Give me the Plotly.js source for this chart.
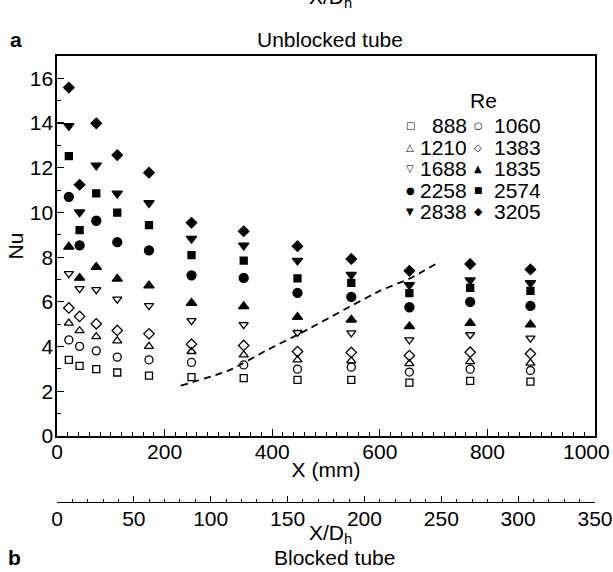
<!DOCTYPE html>
<html>
<head>
<meta charset="utf-8">
<script src="https://cdn.plot.ly/plotly-3.0.1.min.js"></script>
<style>
html,body{margin:0;padding:0;background:#fff;}
#chart{width:613px;height:572px;}
</style>
</head>
<body>
<div id="chart"></div>
<script>
// Axial positions of the measuring stations (mm)
const X_MM = [22, 42, 73, 112, 171, 250, 347, 447, 547, 655, 768, 880];

// Reynolds numbers (legend labels)
const RE = [888, 1060, 1210, 1383, 1688, 1835, 2258, 2574, 2838, 3205];

// Nusselt numbers per Reynolds number
const NU_888  = [3.41, 3.14, 2.99, 2.84, 2.70, 2.63, 2.59, 2.51, 2.51, 2.39, 2.47, 2.43];
const NU_1060 = [4.30, 4.01, 3.81, 3.53, 3.41, 3.29, 3.18, 2.99, 3.08, 2.86, 2.99, 2.93];
const NU_1210 = [5.05, 4.71, 4.45, 4.26, 4.01, 3.78, 3.63, 3.41, 3.36, 3.24, 3.33, 3.26];
const NU_1383 = [5.73, 5.35, 5.02, 4.72, 4.57, 4.11, 4.05, 3.78, 3.74, 3.60, 3.75, 3.68];
const NU_1688 = [7.26, 6.59, 6.55, 6.12, 5.83, 5.16, 4.98, 4.63, 4.61, 4.30, 4.53, 4.38];
const NU_1835 = [8.46, 7.07, 7.56, 7.03, 6.73, 5.95, 5.80, 5.32, 5.20, 4.90, 5.05, 4.98];
const NU_2258 = [10.70, 8.53, 9.63, 8.67, 8.30, 7.19, 7.07, 6.40, 6.22, 5.76, 6.00, 5.82];
const NU_2574 = [12.52, 9.21, 10.85, 9.99, 9.43, 8.09, 7.85, 7.05, 6.85, 6.39, 6.63, 6.49];
const NU_2838 = [13.87, 10.01, 12.11, 10.85, 10.43, 8.83, 8.53, 7.85, 7.22, 6.76, 6.97, 6.85];
const NU_3205 = [15.59, 11.24, 13.99, 12.57, 11.78, 9.54, 9.16, 8.49, 7.92, 7.39, 7.69, 7.45];

// Dashed reference curve
const CURVE_X  = [230, 321, 390, 452, 600, 656, 707];
const CURVE_NU = [2.25, 2.95, 3.84, 4.59, 6.49, 7.05, 7.74];

// Tick labels
const X_TICKS  = [0, 200, 400, 600, 800, 1000];
const XD_TICKS = [0, 50, 100, 150, 200, 250, 300, 350];
const Y_TICKS  = [0, 2, 4, 6, 8, 10, 12, 14, 16];

const SERIES = [NU_888, NU_1060, NU_1210, NU_1383, NU_1688, NU_1835, NU_2258, NU_2574, NU_2838, NU_3205];
const SYMBOLS = ['square-open', 'circle-open', 'triangle-up-open', 'diamond-open', 'triangle-down-open',
                 'triangle-up', 'circle', 'square', 'triangle-down', 'diamond'];
const SIZES = [7, 8, 8, 8, 8, 9, 9, 7, 9, 8];
const GLYPHS = ['\u25A1', '\u25CB', '\u25B3', '\u25C7', '\u25BD', '\u25B2', '\u25CF', '\u25A0', '\u25BC', '\u25C6'];
const GLYPH_SIZE = [10, 10, 10, 10, 10, 10, 10, 9, 10, 11];

const FONT = 'Liberation Sans, Arial, Helvetica, sans-serif';
const FS = 21;
const LFS = 21;

const traces = SERIES.map((nu, i) => ({
  type: 'scatter', mode: 'markers', x: X_MM, y: nu, name: String(RE[i]),
  xaxis: 'x', yaxis: 'y', showlegend: false,
  marker: {symbol: SYMBOLS[i], size: SIZES[i], color: '#000', line: {color: '#000', width: 1.3}}
}));
traces.push({
  type: 'scatter', mode: 'lines', x: CURVE_X, y: CURVE_NU, showlegend: false,
  line: {color: '#000', width: 1.8, dash: '7px,5px', shape: 'spline', smoothing: 0.6}
});
traces.push({type: 'scatter', mode: 'markers', x: [], y: [], xaxis: 'x2', yaxis: 'y', showlegend: false});

// geometry helpers (paper coordinates)
const L = 57, R = 595, T = 56, B = 502, W = 613, H = 572;
const px = v => (v - L) / (R - L);
const py = v => (B - v) / (B - T);
const txt = (text, x, y, size, extra) => Object.assign({
  text: text, x: px(x), y: py(y), xref: 'paper', yref: 'paper', showarrow: false,
  xanchor: 'center', yanchor: 'middle', font: {family: FONT, size: size, color: '#000'}
}, extra || {});

const annotations = [
  txt('<b>a</b>', 16, 40, FS),
  txt('Unblocked tube', 330, 40, FS),
  txt('X/D<sub>h</sub>', 330, -2, FS),
  txt('X/D<sub>h</sub>', 330, 534, FS),
  txt('<b>b</b>', 14, 557, FS),
  txt('Blocked tube', 334, 557, FS),
  txt('Re', 484, 101, LFS),
  // last x tick label, kept inside the page edge
  txt(String(X_TICKS[X_TICKS.length - 1]), 612, 451, FS, {xanchor: 'right'})
];
// legend built from the RE labels: two columns, five rows
RE.forEach((re, i) => {
  const row = Math.floor(i / 2), col = i % 2;
  const yc = 125 + row * 21.5;
  const symX = col === 0 ? 410 : 478;
  const txtRight = col === 0 ? 469 : 543;
  annotations.push(txt(GLYPHS[i], symX, yc, GLYPH_SIZE[i], {height: 14,
    font: {family: 'DejaVu Sans', size: GLYPH_SIZE[i], color: '#000'}}));
  annotations.push(txt(String(re), txtRight, yc, LFS, {xanchor: 'right', height: 20, valign: 'middle'}));
});

const layout = {
  width: W, height: H,
  margin: {l: L, r: W - R, t: T, b: H - B, pad: 0},
  paper_bgcolor: '#fff', plot_bgcolor: '#fff',
  font: {family: FONT, size: FS, color: '#000'},
  showlegend: false,
  xaxis: {
    range: [0, 1000], tickvals: X_TICKS,
    ticktext: X_TICKS.map((v, i) => i === X_TICKS.length - 1 ? '' : String(v)),
    ticks: 'inside', ticklen: 7, tickwidth: 1.2, tickcolor: '#000',
    minor: {dtick: 20, ticks: 'inside', ticklen: 4, tickwidth: 1, tickcolor: '#000'},
    showline: true, linecolor: '#000', linewidth: 1.6, mirror: true,
    showgrid: false, zeroline: false, anchor: 'y',
    tickfont: {family: FONT, size: FS}, ticklabelstandoff: -4,
    title: {text: 'X (mm)', font: {family: FONT, size: FS}, standoff: 0}
  },
  xaxis2: {
    overlaying: 'x', anchor: 'free', position: 0, side: 'bottom',
    range: [0, 350], tickvals: XD_TICKS, ticktext: XD_TICKS.map(String),
    ticks: 'inside', ticklen: 6, tickwidth: 1.2, tickcolor: '#000',
    minor: {dtick: 10, ticks: 'inside', ticklen: 3, tickwidth: 1, tickcolor: '#000'},
    showline: true, linecolor: '#000', linewidth: 1.3,
    showgrid: false, zeroline: false, ticklabeloverflow: 'allow',
    tickfont: {family: FONT, size: FS}, ticklabelstandoff: -3
  },
  yaxis: {
    domain: [py(436), 1], range: [0, 17], tickvals: Y_TICKS, ticktext: Y_TICKS.map(String),
    ticks: 'inside', ticklen: 7, tickwidth: 1.2, tickcolor: '#000',
    minor: {dtick: 1, ticks: 'inside', ticklen: 4, tickwidth: 1, tickcolor: '#000'},
    showline: true, linecolor: '#000', linewidth: 1.6, mirror: true,
    showgrid: false, zeroline: false, anchor: 'x',
    tickfont: {family: FONT, size: FS}, ticklabelstandoff: -2,
    title: {text: 'Nu', font: {family: FONT, size: FS}, standoff: 0}
  },
  annotations: annotations
};

Plotly.newPlot('chart', traces, layout, {displayModeBar: false, staticPlot: true});
</script>
</body>
</html>
